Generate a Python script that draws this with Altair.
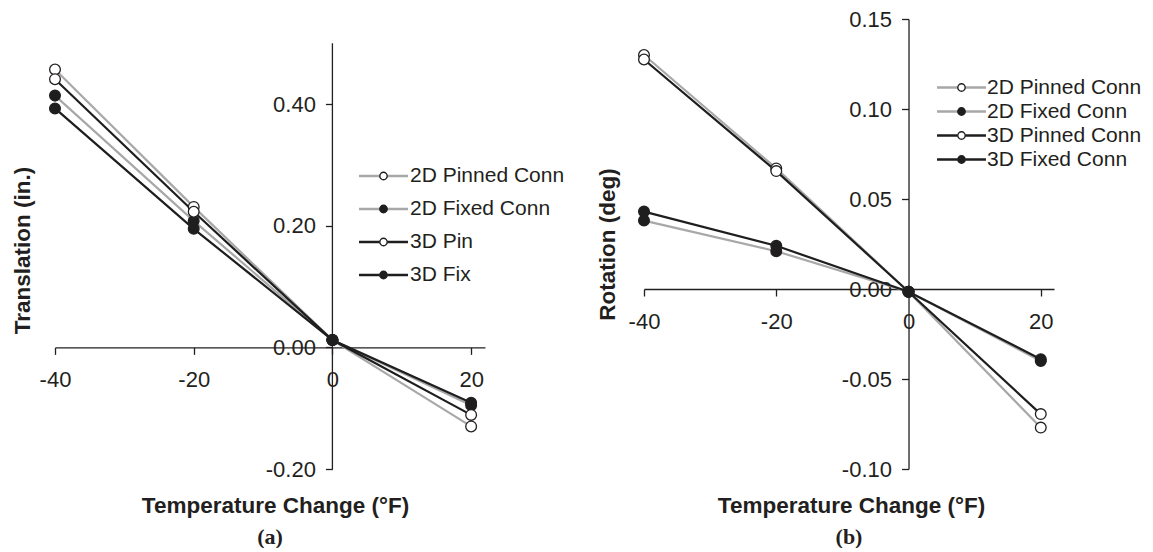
import altair as alt
import pandas as pd

# ---------------- data ----------------
temps = [-40, -20, 0, 20]

# Panel (a): Translation (in.)
series_a = ["2D Pinned Conn", "2D Fixed Conn", "3D Pin", "3D Fix"]
trans_2d_pinned = [0.457, 0.231, 0.012, -0.130]
trans_2d_fixed = [0.414, 0.208, 0.012, -0.095]
trans_3d_pin = [0.441, 0.223, 0.012, -0.111]
trans_3d_fix = [0.393, 0.195, 0.012, -0.091]

# Panel (b): Rotation (deg)
series_b = ["2D Pinned Conn", "2D Fixed Conn", "3D Pinned Conn", "3D Fixed Conn"]
rot_2d_pinned = [0.130, 0.067, -0.0015, -0.077]
rot_2d_fixed = [0.038, 0.021, -0.0015, -0.040]
rot_3d_pinned = [0.1275, 0.0655, -0.0015, -0.0695]
rot_3d_fixed = [0.043, 0.024, -0.0015, -0.039]

x_ticks = [-40, -20, 0, 20]
x_domain = [-40, 22]
trans_ticks = [-0.2, 0.0, 0.2, 0.4]
trans_axis_extent = [-0.2, 0.5]
trans_domain = [-0.2, 0.54]
rot_ticks = [-0.10, -0.05, 0.0, 0.05, 0.10, 0.15]
rot_domain = [-0.10, 0.15]

line_colors = ["#a8a8a8", "#a8a8a8", "#1e1e1e", "#1e1e1e"]
marker_fills = ["#ffffff", "#1e1e1e", "#ffffff", "#1e1e1e"]

DARK = "#231f20"
SANS = "Liberation Sans"
SERIF = "Liberation Serif"
X_TITLE = "Temperature Change (°F)"


def frame(series, columns):
    rows = []
    for name, vals in zip(series, columns):
        for t, v in zip(temps, vals):
            rows.append({"temp": t, "value": v, "series": name})
    return pd.DataFrame(rows)


def panel(df, series, y_title, y_domain, y_ticks, width, height,
          legend_x, legend_y, row_pad, label_offset,
          xtitle_pos, ytitle_pos, caption, axis_extent=None):
    x0 = width * (0 - x_domain[0]) / (x_domain[1] - x_domain[0])
    y0 = height * (y_domain[1] - 0) / (y_domain[1] - y_domain[0])

    x_axis = alt.Axis(
        values=x_ticks, title=X_TITLE, offset=-(height - y0),
        labelExpr="toString(datum.value)", labelFlush=False,
        titleX=xtitle_pos[0], titleY=xtitle_pos[1] - y0,
        titleBaseline="alphabetic",
    )
    y_axis = alt.Axis(
        values=y_ticks, title=y_title, offset=-x0,
        labelExpr="replace(format(datum.value, '.2f'), '\u2212', '-')",
        labelFlush=False,
        titleX=ytitle_pos[0] - x0, titleY=ytitle_pos[1],
        titleBaseline="alphabetic",
        domain=axis_extent is None,
    )
    xs = alt.Scale(domain=x_domain, nice=False, zero=False)
    ys = alt.Scale(domain=y_domain, nice=False, zero=False)

    half = 6.6
    line_path = f"M-{half},0L-1,0M1,0L{half},0"

    line_legend = alt.Legend(
        title=None, orient="none", legendX=legend_x, legendY=legend_y,
        symbolType=line_path, symbolSize=55, symbolStrokeWidth=2.6,
        rowPadding=row_pad, labelOffset=label_offset, labelOpacity=0,
    )
    point_legend = alt.Legend(
        title=None, orient="none", legendX=legend_x, legendY=legend_y,
        symbolType="circle", symbolSize=55, symbolStrokeColor=DARK,
        symbolStrokeWidth=1.4, symbolOpacity=1,
        rowPadding=row_pad, labelOffset=label_offset,
    )

    X = alt.X("temp:Q", scale=xs, axis=x_axis)
    Y = alt.Y("value:Q", scale=ys, axis=y_axis)

    base = alt.Chart(df)
    lines = base.mark_line(strokeWidth=2.2).encode(
        x=X, y=Y,
        stroke=alt.Stroke("series:N", scale=alt.Scale(domain=series, range=line_colors),
                          legend=line_legend),
        order=alt.Order("temp:Q"),
    )
    points = base.transform_calculate(mk="datum.series").mark_point(
        filled=True, size=115, stroke=DARK, strokeWidth=1.3, opacity=1
    ).encode(
        x=X, y=Y,
        fill=alt.Fill("mk:N", sort=series, scale=alt.Scale(range=marker_fills),
                      legend=point_legend),
    )
    layers = []
    if axis_extent is not None:
        ext = pd.DataFrame({"temp": [0], "value": [axis_extent[0]], "value2": [axis_extent[1]]})
        rule = alt.Chart(ext).mark_rule(color=DARK, strokeWidth=1.3).encode(
            x=X, y=Y, y2="value2:Q",
        )
        layers.append(rule)
    layers += [lines, points]
    return alt.layer(*layers).properties(
        width=width, height=height,
        title=alt.TitleParams(text=caption, orient="bottom", anchor="middle", frame="group",
                              font=SERIF, fontSize=22, fontWeight="bold", color=DARK, offset=10),
    )


df_a = frame(series_a, [trans_2d_pinned, trans_2d_fixed, trans_3d_pin, trans_3d_fix])
df_b = frame(series_b, [rot_2d_pinned, rot_2d_fixed, rot_3d_pinned, rot_3d_fixed])

panel_a = panel(df_a, series_a, "Translation (in.)", trans_domain, trans_ticks, 430, 450,
                legend_x=318, legend_y=146.5, row_pad=11, label_offset=16,
                xtitle_pos=(220, 493), ytitle_pos=(-26, 231), caption="(a)",
                axis_extent=trans_axis_extent)
panel_b = panel(df_b, series_b, "Rotation (deg)", rot_domain, rot_ticks, 410, 450,
                legend_x=307, legend_y=58, row_pad=2, label_offset=15,
                xtitle_pos=(207, 493), ytitle_pos=(-30, 225), caption="(b)")

chart = alt.hconcat(panel_a, panel_b, spacing=31).resolve_scale(
    x="independent", y="independent", stroke="independent", fill="independent"
).resolve_legend(
    stroke="independent", fill="independent"
).properties(
    padding={"left": 2, "top": 0, "right": 0, "bottom": 0}
).configure_view(
    strokeOpacity=0
).configure_axis(
    labelFont=SANS, labelFontSize=22, labelColor=DARK,
    titleFont=SANS, titleFontSize=22.5, titleFontWeight="bold", titleColor=DARK,
    domainColor=DARK, domainWidth=1.3, tickColor=DARK, tickWidth=1.3, tickSize=7,
    grid=False, labelOverlap=False,
).configure_axisX(
    labelPadding=15
).configure_axisY(
    labelPadding=10
).configure_legend(
    labelFont=SANS, labelFontSize=21, labelColor=DARK,
)

chart.save("out.html", embed_options={"renderer": "svg", "actions": False})
